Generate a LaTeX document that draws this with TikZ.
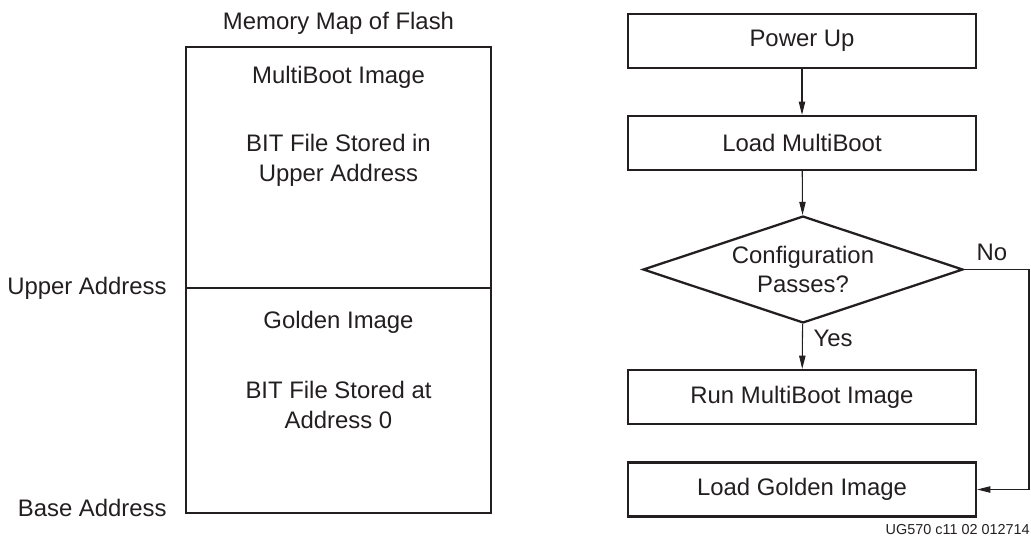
\documentclass[tikz,border=0pt]{standalone}
\usepackage{fontspec}
\setmainfont{Liberation Sans}
\usetikzlibrary{shapes.geometric,arrows.meta,positioning}
\definecolor{ink}{HTML}{231F20}
\begin{document}
\begin{tikzpicture}[
    x=0.02cm, y=-0.02cm,
    every node/.style={text=ink, font=\fontsize{13.6}{16.9}\selectfont},
    block/.style={rectangle, draw=ink, line width=1.3pt, minimum width=6.96cm, minimum height=1.08cm, inner sep=0pt, align=center},
    decision/.style={diamond, draw=ink, line width=1.3pt, minimum width=6.4cm, minimum height=2.14cm, inner sep=0pt, aspect=3, align=center},
    region/.style={rectangle, draw=ink, line width=1.3pt, minimum width=6.1cm, inner sep=0pt},
    lbl/.style={align=center, inner sep=0pt},
    flow/.style={draw=ink, line width=0.6pt, -{Triangle[length=7.5pt, width=3.6pt]}}
]
\useasboundingbox (0,0) rectangle (1031,539);
\node[region, minimum height=4.82cm] (upper) at (338.5,167.5) {};
\node[region, minimum height=4.5cm] (lower) at (338.5,400.5) {};
\node[lbl] (title) at (338.5,23) {Memory Map of Flash};
\node[lbl] (mbname) at (338.5,77) {MultiBoot Image};
\node[lbl] (mbfile) at (338.5,160) {BIT File Stored in\\Upper Address};
\node[lbl] (gname) at (338.5,322) {Golden Image};
\node[lbl] (gfile) at (338.5,405) {BIT File Stored at\\Address 0};
\node[lbl, anchor=east] (upaddr) at (167,288) {Upper Address};
\node[lbl, anchor=east] (baseaddr) at (167,508) {Base Address};

\node[block] (power) at (802,41) {Power Up};
\node[block] (loadmb) at (802,143) {Load MultiBoot};
\node[decision] (check) at (803,269.5) {Configuration\\Passes?};
\node[block] (runmb) at (802,397) {Run MultiBoot Image};
\node[block] (loadgold) at (802,489.5) {Load Golden Image};
\coordinate (noturn) at (1029,269.5);
\node[lbl] (yes) at (833,338) {Yes};
\node[lbl] (no) at (992,252) {No};
\node[lbl, anchor=east, font=\fontsize{8.2}{9}\selectfont] (figid) at (1030,530) {UG570 c11 02 012714};

\draw[flow] (power) -- (loadmb);
\draw[flow] (loadmb) -- (check);
\draw[flow] (check) -- (runmb);
\draw[flow] (check.east) -- (noturn) |- (loadgold.east);
\end{tikzpicture}
\end{document}
